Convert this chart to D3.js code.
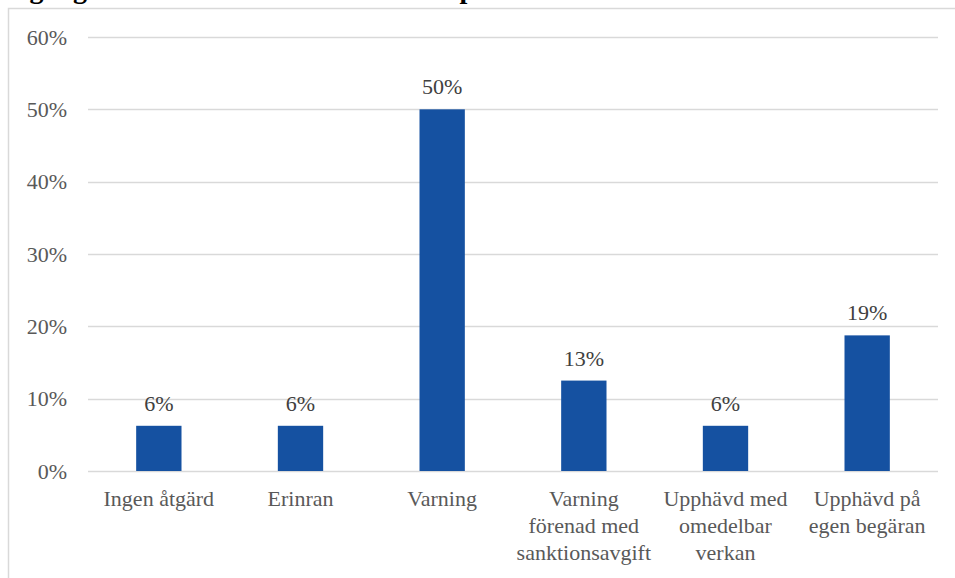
<!DOCTYPE html>
<html>
<head>
<meta charset="utf-8">
<script src="https://cdn.jsdelivr.net/npm/d3@7"></script>
<style>
  html, body { margin: 0; padding: 0; background: #fff; }
  svg { display: block; }
</style>
</head>
<body>
<div id="chart"></div>
<script>
// Chart data
const categories = [
  ['Ingen åtgärd'],
  ['Erinran'],
  ['Varning'],
  ['Varning', 'förenad med', 'sanktionsavgift'],
  ['Upphävd med', 'omedelbar', 'verkan'],
  ['Upphävd på', 'egen begäran']
];
const values = [0.0625, 0.0625, 0.5, 0.125, 0.0625, 0.1875];
const valueLabels = ['6%', '6%', '50%', '13%', '6%', '19%'];
const yTicks = [0, 0.1, 0.2, 0.3, 0.4, 0.5, 0.6];
const titleText = 'Utgång i ärenden som avslutats under perioden';

const width = 955;
const height = 578;
const margin = { top: 37, right: 17, bottom: 107, left: 88 };
const barColor = '#1551a1';
const textColor = '#595959';
const serif = '"Liberation Serif", "Times New Roman", "DejaVu Serif", serif';
const fontSize = '22px';

const svg = d3.select('#chart')
  .append('svg')
  .attr('width', width)
  .attr('height', height)
  .style('font-family', serif);

// Chart frame
svg.append('rect')
  .attr('x', 8.5)
  .attr('y', 8.5)
  .attr('width', width + 10)
  .attr('height', height + 10)
  .attr('fill', 'none')
  .attr('stroke', '#d9d9d9')
  .attr('stroke-width', 1.5);

// Title, mostly cut off at the top
svg.append('text')
  .attr('x', 0)
  .attr('y', -2)
  .attr('font-size', 28)
  .attr('font-weight', 'bold')
  .attr('fill', '#000')
  .style('font-family', serif)
  .text(titleText);

const x = d3.scaleBand()
  .domain(d3.range(categories.length))
  .range([margin.left, width - margin.right])
  .paddingInner(0.68)
  .paddingOuter(0.34);

const y = d3.scaleLinear()
  .domain([0, 0.6])
  .range([height - margin.bottom, margin.top]);

// Gridlines
svg.append('g')
  .selectAll('line')
  .data(yTicks)
  .join('line')
  .attr('x1', margin.left)
  .attr('x2', width - margin.right)
  .attr('y1', d => Math.round(y(d)) + 0.5)
  .attr('y2', d => Math.round(y(d)) + 0.5)
  .attr('stroke', '#d9d9d9')
  .attr('stroke-width', 1.3);

// Y axis labels
const yAxis = d3.axisLeft(y)
  .tickValues(yTicks)
  .tickFormat(d3.format('.0%'))
  .tickSize(0)
  .tickPadding(21);

svg.append('g')
  .attr('transform', `translate(${margin.left},0)`)
  .call(yAxis)
  .attr('font-family', null)
  .attr('font-size', null)
  .call(g => g.select('.domain').remove())
  .call(g => g.selectAll('text')
    .style('font-family', serif)
    .style('font-size', fontSize)
    .attr('fill', textColor));

// Bars
svg.append('g')
  .selectAll('rect')
  .data(values)
  .join('rect')
  .attr('x', (d, i) => x(i))
  .attr('y', d => y(d))
  .attr('width', x.bandwidth())
  .attr('height', d => y(0) - y(d))
  .attr('fill', barColor);

// Value labels
svg.append('g')
  .selectAll('text')
  .data(values)
  .join('text')
  .attr('x', (d, i) => x(i) + x.bandwidth() / 2)
  .attr('y', d => y(d) - 15)
  .attr('text-anchor', 'middle')
  .style('font-family', serif)
  .style('font-size', fontSize)
  .attr('fill', '#404040')
  .text((d, i) => valueLabels[i]);

// Category labels
const catG = svg.append('g')
  .selectAll('text')
  .data(categories)
  .join('text')
  .attr('text-anchor', 'middle')
  .style('font-family', serif)
  .style('font-size', fontSize)
  .attr('fill', textColor)
  .attr('x', (d, i) => x(i) + x.bandwidth() / 2)
  .attr('y', y(0) + 35);

catG.selectAll('tspan')
  .data(d => d)
  .join('tspan')
  .attr('x', function () { return d3.select(this.parentNode).attr('x'); })
  .attr('dy', (d, i) => i === 0 ? 0 : 27)
  .text(d => d);
</script>
</body>
</html>
